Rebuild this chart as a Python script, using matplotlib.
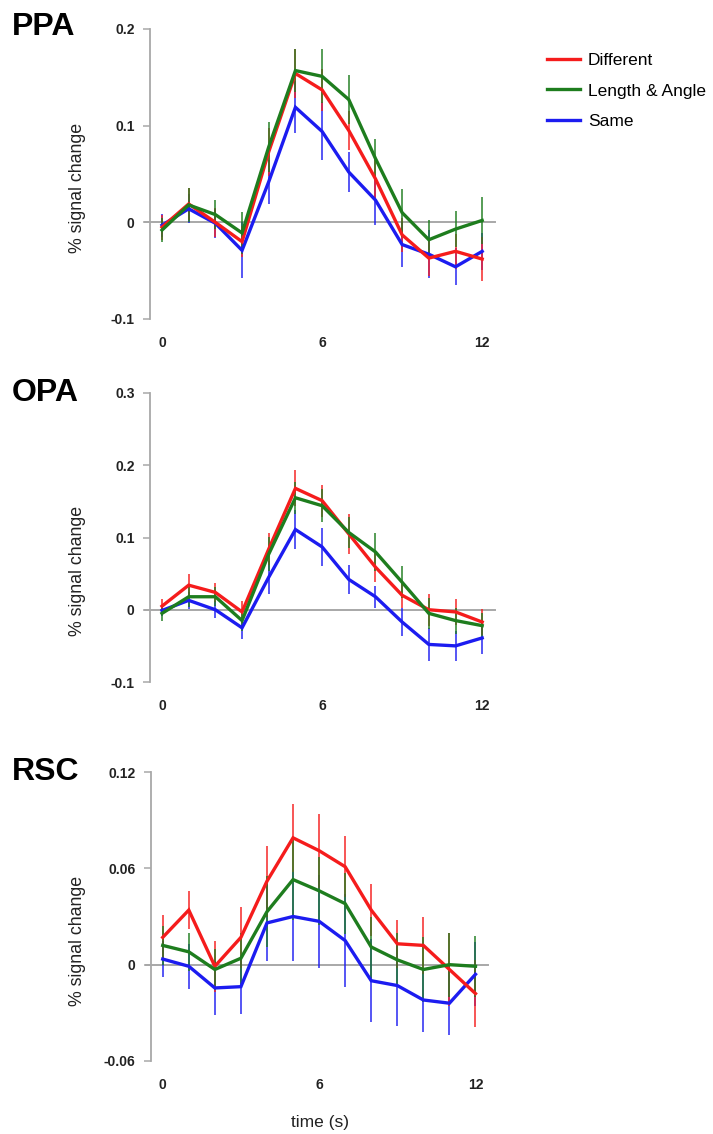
import matplotlib
matplotlib.use("Agg")
import matplotlib.pyplot as plt
import numpy as np

plt.rcParams['font.family'] = ['Liberation Sans', 'DejaVu Sans']

time_s = np.arange(13)
series_names = ["Different", "Length & Angle", "Same"]
colors = ["#f51c1c", "#1e7d1e", "#1c1cf0"]

# PPA
ppa_diff = [-0.005, 0.019, 0.000, -0.020, 0.073, 0.154, 0.137, 0.095, 0.045, -0.013, -0.037, -0.030, -0.038]
ppa_len = [-0.008, 0.018, 0.008, -0.011, 0.078, 0.157, 0.151, 0.127, 0.066, 0.010, -0.018, -0.007, 0.002]
ppa_same = [-0.003, 0.014, -0.001, -0.029, 0.042, 0.119, 0.094, 0.052, 0.023, -0.023, -0.033, -0.046, -0.030]
ppa_diff_err = [0.013, 0.017, 0.015, 0.016, 0.025, 0.025, 0.022, 0.020, 0.020, 0.018, 0.018, 0.018, 0.023]
ppa_len_err = [0.012, 0.018, 0.015, 0.022, 0.026, 0.022, 0.028, 0.025, 0.020, 0.025, 0.020, 0.019, 0.024]
ppa_same_err = [0.012, 0.015, 0.015, 0.029, 0.023, 0.027, 0.030, 0.021, 0.026, 0.023, 0.025, 0.019, 0.019]

# OPA
opa_diff = [0.005, 0.034, 0.024, -0.003, 0.084, 0.168, 0.151, 0.105, 0.059, 0.020, 0.000, -0.003, -0.017]
opa_len = [-0.005, 0.018, 0.018, -0.015, 0.077, 0.155, 0.144, 0.107, 0.080, 0.038, -0.005, -0.015, -0.022]
opa_same = [-0.001, 0.013, 0.000, -0.025, 0.045, 0.111, 0.087, 0.042, 0.018, -0.017, -0.048, -0.050, -0.039]
opa_diff_err = [0.010, 0.015, 0.013, 0.015, 0.022, 0.025, 0.022, 0.028, 0.020, 0.018, 0.022, 0.018, 0.018]
opa_len_err = [0.010, 0.014, 0.013, 0.014, 0.024, 0.022, 0.023, 0.022, 0.026, 0.022, 0.021, 0.018, 0.018]
opa_same_err = [0.008, 0.012, 0.012, 0.015, 0.023, 0.027, 0.026, 0.020, 0.015, 0.020, 0.023, 0.021, 0.022]

# RSC
rsc_diff = [0.017, 0.034, -0.001, 0.017, 0.052, 0.079, 0.071, 0.061, 0.034, 0.013, 0.012, -0.003, -0.018]
rsc_len = [0.012, 0.008, -0.003, 0.004, 0.033, 0.053, 0.046, 0.038, 0.011, 0.003, -0.003, 0.000, -0.001]
rsc_same = [0.0035, -0.001, -0.0145, -0.0137, 0.026, 0.030, 0.027, 0.015, -0.010, -0.013, -0.022, -0.024, -0.006]
rsc_diff_err = [0.014, 0.012, 0.016, 0.019, 0.022, 0.021, 0.023, 0.019, 0.016, 0.015, 0.018, 0.023, 0.021]
rsc_len_err = [0.012, 0.012, 0.013, 0.016, 0.022, 0.025, 0.021, 0.019, 0.019, 0.017, 0.020, 0.020, 0.019]
rsc_same_err = [0.011, 0.014, 0.017, 0.017, 0.024, 0.028, 0.029, 0.029, 0.026, 0.025, 0.020, 0.020, 0.020]

panels = [
    ("PPA", [ppa_diff, ppa_len, ppa_same], [ppa_diff_err, ppa_len_err, ppa_same_err],
     [0.2, 0.1, 0, -0.1], ["0.2", "0.1", "0", "-0.1"]),
    ("OPA", [opa_diff, opa_len, opa_same], [opa_diff_err, opa_len_err, opa_same_err],
     [0.3, 0.2, 0.1, 0, -0.1], ["0.3", "0.2", "0.1", "0", "-0.1"]),
    ("RSC", [rsc_diff, rsc_len, rsc_same], [rsc_diff_err, rsc_len_err, rsc_same_err],
     [0.12, 0.06, 0, -0.06], ["0.12", "0.06", "0", "-0.06"]),
]

W, H = 713, 1134
fig = plt.figure(figsize=(W / 100, H / 100), dpi=100)

# axes boxes in pixels: left, top, right, bottom
boxes = [(150, 29, 495, 319), (150, 393, 495, 682), (151, 772, 488, 1061)]
title_y = [27, 393, 772]
ylabel_y = [188, 571, 941]
draw_order = [2, 0, 1]

for (name, vals, errs, yt, ytl), (l, t, r, b), ty, ly in zip(panels, boxes, title_y, ylabel_y):
    ax = fig.add_axes([l / W, 1 - b / H, (r - l) / W, (b - t) / H])
    ax.axhline(0, color="#a8a8a8", lw=1.4, xmin=-0.015, clip_on=False, zorder=1)
    for i in draw_order:
        ax.errorbar(time_s, vals[i], yerr=errs[i], fmt="none", ecolor=colors[i],
                    elinewidth=1.4, alpha=0.75, capsize=0, zorder=2)
    for i in draw_order:
        ax.plot(time_s, vals[i], color=colors[i], lw=2.4, zorder=3, label=series_names[i],
                solid_joinstyle="miter")
    ax.set_ylim(min(yt), max(yt))
    ax.set_xlim(-0.45, 12.48)
    ax.set_yticks(yt)
    ax.set_yticklabels(ytl, fontsize=10, fontweight="bold", color="#222222")
    ax.set_xticks([0, 6, 12])
    ax.set_xticklabels(["0", "6", "12"], fontsize=10, fontweight="bold", color="#222222")
    ax.tick_params(axis="x", length=0, pad=12)
    ax.tick_params(axis="y", length=5, width=1.1, color="#a8a8a8", pad=6)
    for s in ["top", "right", "bottom"]:
        ax.spines[s].set_visible(False)
    ax.spines["left"].set_color("#a8a8a8")
    ax.spines["left"].set_linewidth(1.3)
    fig.text(12 / W, 1 - ty / H, name, fontsize=23, fontweight="bold", va="center", ha="left")
    fig.text(78 / W, 1 - ly / H, "% signal change", fontsize=12.8, rotation=90,
             va="center", ha="center", color="#222222")
    if name == "PPA":
        handles, labels = ax.get_legend_handles_labels()
        order = [labels.index(n) for n in series_names]
        fig.legend([handles[k] for k in order], [labels[k] for k in order],
                   loc="upper left", bbox_to_anchor=(540 / W, 1 - 46 / H), frameon=False,
                   fontsize=12.5, handlelength=1.9, handletextpad=0.45, labelspacing=0.88,
                   borderaxespad=0)

fig.text(320 / W, 1 - 1123 / H, "time (s)", fontsize=12.5, ha="center", va="center", color="#222222")

fig.savefig("out.png", dpi=100)
